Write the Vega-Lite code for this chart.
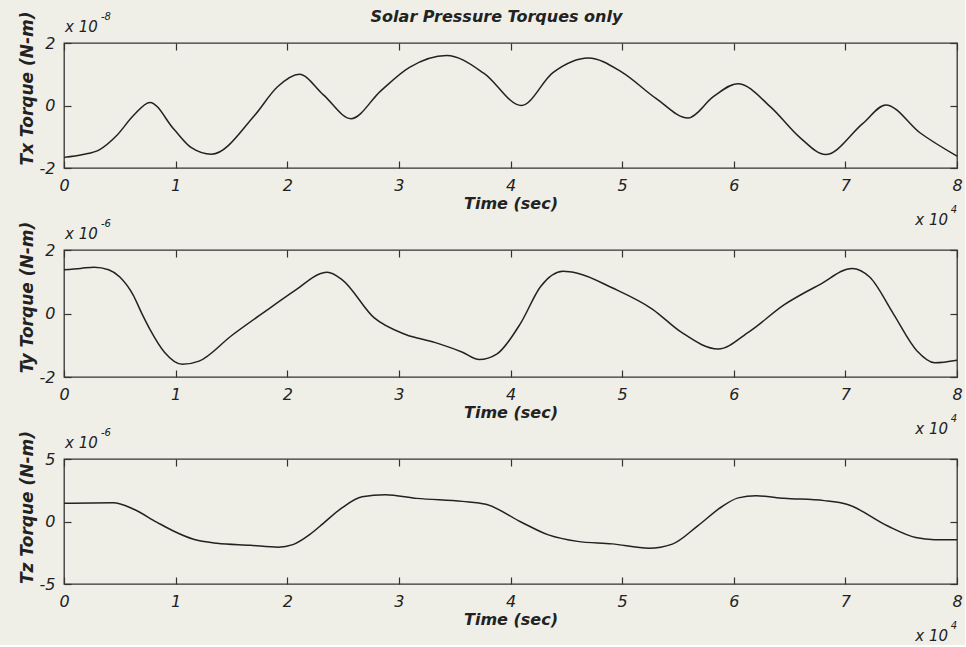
{
  "$schema": "https://vega.github.io/schema/vega-lite/v6.json",
  "padding": {"left": 17, "top": 8, "right": 2, "bottom": 0},
  "background": "#efefe8",
  "bounds": "flush",
  "spacing": 82,
  "datasets": {
    "tx": [
      {"t": 0, "v": -1.66}, {"t": 0.17, "v": -1.57}, {"t": 0.32, "v": -1.41}, {"t": 0.47, "v": -0.97}, {"t": 0.62, "v": -0.33},
      {"t": 0.77, "v": 0.1}, {"t": 0.987, "v": -0.77}, {"t": 1.141, "v": -1.35}, {"t": 1.321, "v": -1.56},
      {"t": 1.707, "v": -0.32}, {"t": 1.913, "v": 0.6}, {"t": 2.108, "v": 1.0}, {"t": 2.324, "v": 0.34},
      {"t": 2.571, "v": -0.42}, {"t": 2.838, "v": 0.47}, {"t": 3.095, "v": 1.22}, {"t": 3.429, "v": 1.6},
      {"t": 3.763, "v": 1.03}, {"t": 4.098, "v": 0.0}, {"t": 4.38, "v": 1.05}, {"t": 4.699, "v": 1.52},
      {"t": 4.997, "v": 1.07}, {"t": 5.306, "v": 0.22}, {"t": 5.589, "v": -0.4}, {"t": 5.82, "v": 0.29},
      {"t": 6.036, "v": 0.7}, {"t": 6.334, "v": -0.06}, {"t": 6.591, "v": -1.02}, {"t": 6.823, "v": -1.57},
      {"t": 7.157, "v": -0.57}, {"t": 7.362, "v": 0.02}, {"t": 7.671, "v": -0.88}, {"t": 8, "v": -1.62}
    ],
    "ty": [
      {"t": 0, "v": 1.38}, {"t": 0.15, "v": 1.42}, {"t": 0.27, "v": 1.46}, {"t": 0.4, "v": 1.38}, {"t": 0.5, "v": 1.15},
      {"t": 0.62, "v": 0.58}, {"t": 0.7, "v": -0.02}, {"t": 0.77, "v": -0.5}, {"t": 0.9, "v": -1.22},
      {"t": 1.06, "v": -1.6}, {"t": 1.21, "v": -1.5}, {"t": 1.5, "v": -0.7}, {"t": 1.8, "v": 0.06},
      {"t": 2.08, "v": 0.75}, {"t": 2.3, "v": 1.26}, {"t": 2.36, "v": 1.3}, {"t": 2.49, "v": 1.07},
      {"t": 2.78, "v": -0.14}, {"t": 3.06, "v": -0.66}, {"t": 3.32, "v": -0.91}, {"t": 3.57, "v": -1.22},
      {"t": 3.72, "v": -1.45}, {"t": 3.88, "v": -1.27}, {"t": 4.09, "v": -0.31}, {"t": 4.27, "v": 0.85},
      {"t": 4.47, "v": 1.33}, {"t": 4.6, "v": 1.27}, {"t": 4.91, "v": 0.81}, {"t": 5.27, "v": 0.14},
      {"t": 5.53, "v": -0.59}, {"t": 5.86, "v": -1.12}, {"t": 6.14, "v": -0.57}, {"t": 6.45, "v": 0.27},
      {"t": 6.77, "v": 0.91}, {"t": 7.06, "v": 1.42}, {"t": 7.22, "v": 1.14}, {"t": 7.43, "v": -0.01},
      {"t": 7.64, "v": -1.17}, {"t": 7.8, "v": -1.55}, {"t": 8, "v": -1.47}
    ],
    "tz": [
      {"t": 0, "v": 1.45}, {"t": 0.44, "v": 1.5}, {"t": 0.62, "v": 1.0}, {"t": 0.83, "v": -0.05}, {"t": 0.98, "v": -0.76},
      {"t": 1.16, "v": -1.42}, {"t": 1.37, "v": -1.74}, {"t": 1.67, "v": -1.9}, {"t": 1.92, "v": -2.05},
      {"t": 2.05, "v": -1.85}, {"t": 2.2, "v": -1.05}, {"t": 2.29, "v": -0.4}, {"t": 2.49, "v": 1.09},
      {"t": 2.67, "v": 1.98}, {"t": 2.88, "v": 2.15}, {"t": 3.16, "v": 1.85}, {"t": 3.57, "v": 1.61},
      {"t": 3.78, "v": 1.38}, {"t": 4.09, "v": -0.02}, {"t": 4.34, "v": -1.07}, {"t": 4.6, "v": -1.59},
      {"t": 4.91, "v": -1.79}, {"t": 5.24, "v": -2.14}, {"t": 5.45, "v": -1.81}, {"t": 5.68, "v": -0.33},
      {"t": 5.89, "v": 1.16}, {"t": 6.04, "v": 1.89}, {"t": 6.2, "v": 2.06}, {"t": 6.45, "v": 1.86},
      {"t": 6.81, "v": 1.67}, {"t": 7.02, "v": 1.36}, {"t": 7.38, "v": -0.36}, {"t": 7.63, "v": -1.28},
      {"t": 7.8, "v": -1.45}, {"t": 8, "v": -1.45}
    ],
    "ex1": [{"t": 0, "v": 2, "base": "x 10", "sup": "-8"}],
    "ex2": [{"t": 0, "v": 2, "base": "x 10", "sup": "-6"}],
    "ex3": [{"t": 0, "v": 5, "base": "x 10", "sup": "-6"}],
    "xe1": [{"t": 8, "v": -2, "base": "x 10", "sup": "4"}],
    "xe3": [{"t": 8, "v": -5, "base": "x 10", "sup": "4"}]
  },
  "vconcat": [
    {
      "width": 893, "height": 125,
      "title": {"text": "Solar Pressure Torques only", "font": "DejaVu Sans", "fontStyle": "italic", "fontWeight": "bold", "fontSize": 16, "color": "#222", "anchor": "middle", "frame": "group", "dx": -14, "offset": -14},
      "resolve": {"axis": {"x": "independent", "y": "independent"}},
      "layer": [
        {"data": {"name": "tx"}, "mark": {"type": "line", "interpolate": "monotone", "color": "#222", "strokeWidth": 1.5},
         "encoding": {
           "x": {"field": "t", "type": "quantitative", "scale": {"domain": [0, 8], "nice": false}, "axis": {"orient": "bottom", "values": [0,1,2,3,4,5,6,7,8], "title": "Time (sec)"}},
           "y": {"field": "v", "type": "quantitative", "scale": {"domain": [-2, 2], "nice": false}, "axis": {"orient": "left", "values": [-2,0,2], "title": "Tx Torque (N-m)", "titleY": 45}}
         }},
        {"data": {"name": "tx"}, "mark": {"type": "line", "opacity": 0},
         "encoding": {
           "x": {"field": "t", "type": "quantitative", "axis": {"orient": "top", "values": [0,1,2,3,4,5,6,7,8], "labels": false, "title": null}},
           "y": {"field": "v", "type": "quantitative", "axis": {"orient": "right", "values": [-2,0,2], "labels": false, "title": null}}
         }},
        {"data": {"name": "ex1"}, "mark": {"type": "text", "align": "left", "baseline": "alphabetic", "dx": 1, "dy": -11, "fontSize": 15, "font": "DejaVu Sans", "fontStyle": "italic", "color": "#222"},
         "encoding": {"x": {"field": "t", "type": "quantitative", "axis": null}, "y": {"field": "v", "type": "quantitative", "axis": null}, "text": {"field": "base"}}},
        {"data": {"name": "ex1"}, "mark": {"type": "text", "align": "left", "baseline": "alphabetic", "dx": 37, "dy": -23, "fontSize": 10, "font": "DejaVu Sans", "fontStyle": "italic", "color": "#222"},
         "encoding": {"x": {"field": "t", "type": "quantitative", "axis": null}, "y": {"field": "v", "type": "quantitative", "axis": null}, "text": {"field": "sup"}}},
        {"data": {"name": "xe1"}, "mark": {"type": "text", "align": "right", "baseline": "alphabetic", "dx": -9, "dy": 57, "fontSize": 15, "font": "DejaVu Sans", "fontStyle": "italic", "color": "#222"},
         "encoding": {"x": {"field": "t", "type": "quantitative", "axis": null}, "y": {"field": "v", "type": "quantitative", "axis": null}, "text": {"field": "base"}}},
        {"data": {"name": "xe1"}, "mark": {"type": "text", "align": "right", "baseline": "alphabetic", "dx": 0, "dy": 45, "fontSize": 10, "font": "DejaVu Sans", "fontStyle": "italic", "color": "#222"},
         "encoding": {"x": {"field": "t", "type": "quantitative", "axis": null}, "y": {"field": "v", "type": "quantitative", "axis": null}, "text": {"field": "sup"}}}
      ]
    },
    {
      "width": 893, "height": 127,
      "resolve": {"axis": {"x": "independent", "y": "independent"}},
      "layer": [
        {"data": {"name": "ty"}, "mark": {"type": "line", "interpolate": "monotone", "color": "#222", "strokeWidth": 1.5},
         "encoding": {
           "x": {"field": "t", "type": "quantitative", "scale": {"domain": [0, 8], "nice": false}, "axis": {"orient": "bottom", "values": [0,1,2,3,4,5,6,7,8], "title": "Time (sec)"}},
           "y": {"field": "v", "type": "quantitative", "scale": {"domain": [-2, 2], "nice": false}, "axis": {"orient": "left", "values": [-2,0,2], "title": "Ty Torque (N-m)", "titleY": 47}}
         }},
        {"data": {"name": "ty"}, "mark": {"type": "line", "opacity": 0},
         "encoding": {
           "x": {"field": "t", "type": "quantitative", "axis": {"orient": "top", "values": [0,1,2,3,4,5,6,7,8], "labels": false, "title": null}},
           "y": {"field": "v", "type": "quantitative", "axis": {"orient": "right", "values": [-2,0,2], "labels": false, "title": null}}
         }},
        {"data": {"name": "ex2"}, "mark": {"type": "text", "align": "left", "baseline": "alphabetic", "dx": 1, "dy": -11, "fontSize": 15, "font": "DejaVu Sans", "fontStyle": "italic", "color": "#222"},
         "encoding": {"x": {"field": "t", "type": "quantitative", "axis": null}, "y": {"field": "v", "type": "quantitative", "axis": null}, "text": {"field": "base"}}},
        {"data": {"name": "ex2"}, "mark": {"type": "text", "align": "left", "baseline": "alphabetic", "dx": 37, "dy": -23, "fontSize": 10, "font": "DejaVu Sans", "fontStyle": "italic", "color": "#222"},
         "encoding": {"x": {"field": "t", "type": "quantitative", "axis": null}, "y": {"field": "v", "type": "quantitative", "axis": null}, "text": {"field": "sup"}}},
        {"data": {"name": "xe1"}, "mark": {"type": "text", "align": "right", "baseline": "alphabetic", "dx": -9, "dy": 57, "fontSize": 15, "font": "DejaVu Sans", "fontStyle": "italic", "color": "#222"},
         "encoding": {"x": {"field": "t", "type": "quantitative", "axis": null}, "y": {"field": "v", "type": "quantitative", "axis": null}, "text": {"field": "base"}}},
        {"data": {"name": "xe1"}, "mark": {"type": "text", "align": "right", "baseline": "alphabetic", "dx": 0, "dy": 45, "fontSize": 10, "font": "DejaVu Sans", "fontStyle": "italic", "color": "#222"},
         "encoding": {"x": {"field": "t", "type": "quantitative", "axis": null}, "y": {"field": "v", "type": "quantitative", "axis": null}, "text": {"field": "sup"}}}
      ]
    },
    {
      "width": 893, "height": 125,
      "resolve": {"axis": {"x": "independent", "y": "independent"}},
      "layer": [
        {"data": {"name": "tz"}, "mark": {"type": "line", "interpolate": "monotone", "color": "#222", "strokeWidth": 1.5},
         "encoding": {
           "x": {"field": "t", "type": "quantitative", "scale": {"domain": [0, 8], "nice": false}, "axis": {"orient": "bottom", "values": [0,1,2,3,4,5,6,7,8], "title": "Time (sec)"}},
           "y": {"field": "v", "type": "quantitative", "scale": {"domain": [-5, 5], "nice": false}, "axis": {"orient": "left", "values": [-5,0,5], "title": "Tz Torque (N-m)", "titleY": 48}}
         }},
        {"data": {"name": "tz"}, "mark": {"type": "line", "opacity": 0},
         "encoding": {
           "x": {"field": "t", "type": "quantitative", "axis": {"orient": "top", "values": [0,1,2,3,4,5,6,7,8], "labels": false, "title": null}},
           "y": {"field": "v", "type": "quantitative", "axis": {"orient": "right", "values": [-5,0,5], "labels": false, "title": null}}
         }},
        {"data": {"name": "ex3"}, "mark": {"type": "text", "align": "left", "baseline": "alphabetic", "dx": 1, "dy": -11, "fontSize": 15, "font": "DejaVu Sans", "fontStyle": "italic", "color": "#222"},
         "encoding": {"x": {"field": "t", "type": "quantitative", "axis": null}, "y": {"field": "v", "type": "quantitative", "axis": null}, "text": {"field": "base"}}},
        {"data": {"name": "ex3"}, "mark": {"type": "text", "align": "left", "baseline": "alphabetic", "dx": 37, "dy": -23, "fontSize": 10, "font": "DejaVu Sans", "fontStyle": "italic", "color": "#222"},
         "encoding": {"x": {"field": "t", "type": "quantitative", "axis": null}, "y": {"field": "v", "type": "quantitative", "axis": null}, "text": {"field": "sup"}}},
        {"data": {"name": "xe3"}, "mark": {"type": "text", "align": "right", "baseline": "alphabetic", "dx": -9, "dy": 57, "fontSize": 15, "font": "DejaVu Sans", "fontStyle": "italic", "color": "#222"},
         "encoding": {"x": {"field": "t", "type": "quantitative", "axis": null}, "y": {"field": "v", "type": "quantitative", "axis": null}, "text": {"field": "base"}}},
        {"data": {"name": "xe3"}, "mark": {"type": "text", "align": "right", "baseline": "alphabetic", "dx": 0, "dy": 45, "fontSize": 10, "font": "DejaVu Sans", "fontStyle": "italic", "color": "#222"},
         "encoding": {"x": {"field": "t", "type": "quantitative", "axis": null}, "y": {"field": "v", "type": "quantitative", "axis": null}, "text": {"field": "sup"}}}
      ]
    }
  ],
  "config": {
    "view": {"stroke": "#333", "strokeWidth": 1.3},
    "axis": {
      "grid": false, "domain": false, "tickColor": "#333", "tickSize": -7, "tickWidth": 1.2,
      "labelFont": "DejaVu Sans", "labelFontStyle": "italic", "labelFontSize": 16, "labelColor": "#222",
      "labelFlush": false, "labelOverlap": false, "labelPadding": 16, "labelExpr": "'' + datum.value",
      "titleFont": "DejaVu Sans", "titleFontStyle": "italic", "titleFontWeight": "bold", "titleFontSize": 16, "titleColor": "#222",
      "titlePadding": 2
    },
    "axisLeft": {"labelPadding": 16, "titlePadding": 3, "titleFontSize": 17}
  }
}
